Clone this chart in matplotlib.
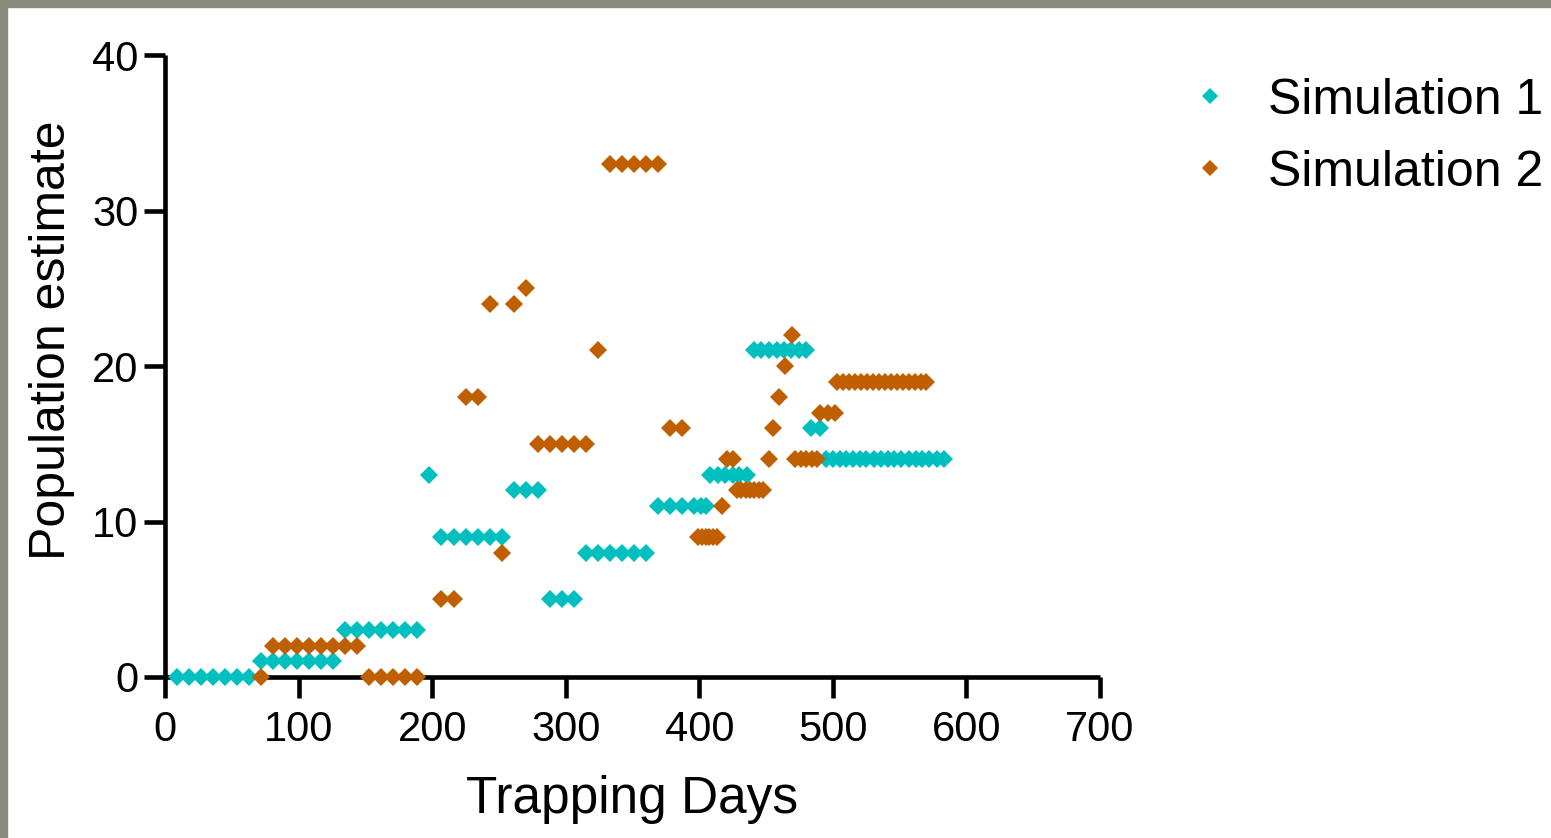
import matplotlib
matplotlib.use("Agg")
import matplotlib.pyplot as plt
from matplotlib.patches import Rectangle

# ---- data ----
sim1_x = [9, 18, 27, 36, 45, 54, 63,
          72, 81, 90, 99, 108, 117, 126,
          135, 144, 153, 162, 171, 180, 189,
          198,
          207, 216, 225, 234, 243, 252,
          261, 270, 279,
          288, 297, 306,
          315, 324, 333, 342, 351, 360,
          369, 378, 387, 396, 401, 405,
          408, 414, 419, 425, 430, 436,
          441, 446.5, 452, 458, 463.5, 469, 474.5, 480,
          484, 490,
          495, 500, 505, 510, 515, 520, 525, 531, 536, 541, 546, 551, 557, 562, 567, 572, 578, 583]
sim1_y = [0] * 7 + [1] * 7 + [3] * 7 + [13] + [9] * 6 + [12] * 3 + [5] * 3 + [8] * 6 \
    + [11] * 6 + [13] * 6 + [21] * 8 + [16] * 2 + [14] * 18

sim2_x = [72,
          81, 90, 99, 108, 117, 126, 135, 144,
          153, 162, 171, 180, 189,
          207, 216,
          225, 234,
          243, 252, 261, 270,
          279, 288, 297, 306, 315,
          324,
          333, 342, 351, 360, 369,
          378, 387,
          399, 402, 405, 407, 410, 413,
          417,
          421, 425,
          428, 431.5, 435, 438, 441, 444.5, 448,
          452, 455.5, 460, 464.5, 469.5,
          472, 476, 480, 484.5, 488,
          490.5, 496, 501.5,
          503, 507.5, 512, 516.5, 521, 525.5, 530, 534.5, 539, 543.5, 548, 552.5, 557, 561.5, 566, 570]
sim2_y = [0] + [2] * 8 + [0] * 5 + [5] * 2 + [18] * 2 + [24, 8, 24, 25] + [15] * 5 + [21] \
    + [33] * 5 + [16] * 2 + [9] * 6 + [11] + [14] * 2 + [12] * 7 + [14, 16, 18, 20, 22] \
    + [14] * 5 + [17] * 3 + [19] * 16

series_labels = ["Simulation 1", "Simulation 2"]
x_ticks = [0, 100, 200, 300, 400, 500, 600, 700]
y_ticks = [0, 10, 20, 30, 40]

# ---- style ----
plt.rcParams['font.family'] = ['Liberation Sans', 'DejaVu Sans']
CYAN = "#00BFBF"
ORANGE = "#C05F00"

fig = plt.figure(figsize=(15.51, 8.38), dpi=100)
ax = fig.add_axes([165 / 1551, 1 - 677 / 838, (1100 - 165) / 1551, (677 - 55) / 838])

ms = 9.3
ax.plot(sim1_x, sim1_y, linestyle='none', marker='D', ms=ms, color=CYAN,
        markeredgewidth=0, label=series_labels[0], clip_on=False, zorder=3)
ax.plot(sim2_x, sim2_y, linestyle='none', marker='D', ms=ms, color=ORANGE,
        markeredgewidth=0, label=series_labels[1], clip_on=False, zorder=3)

ax.set_xlim(0, 700)
ax.set_ylim(0, 40)
ax.set_xticks(x_ticks)
ax.set_yticks(y_ticks)

for s in ['top', 'right']:
    ax.spines[s].set_visible(False)
for s in ['left', 'bottom']:
    ax.spines[s].set_linewidth(3.3)
    ax.spines[s].set_capstyle('butt')

ax.tick_params(axis='both', direction='out', length=15, width=3.3,
               labelsize=30, color='black')
ax.tick_params(axis='x', pad=9)
ax.tick_params(axis='y', pad=4)

ax.set_xlabel("Trapping Days", fontsize=37)
ax.xaxis.set_label_coords((632 - 165) / 935, -(800 - 677) / 622)
ax.xaxis.label.set_va('center')
ax.set_ylabel("Population estimate", fontsize=36)
ax.yaxis.set_label_coords((52 - 165) / 935, (677 - 340) / 622)
ax.yaxis.label.set_va('center')

leg = ax.legend(loc='upper left', bbox_to_anchor=(1185 / 1551, 1 - 78 / 838),
                bbox_transform=fig.transFigure, frameon=False, fontsize=36,
                handlelength=1.0, handletextpad=0.66, borderpad=0, borderaxespad=0,
                labelspacing=0.51, markerscale=0.9)

# gray border on the left and top edges
border = "#8A8B7F"
fig.patches.append(Rectangle((0, 0), 7 / 1551, 1, transform=fig.transFigure,
                             color=border, zorder=0))
fig.patches.append(Rectangle((0, 1 - 7 / 838), 1, 7 / 838, transform=fig.transFigure,
                             color=border, zorder=0))

fig.savefig("out.png", dpi=100)
